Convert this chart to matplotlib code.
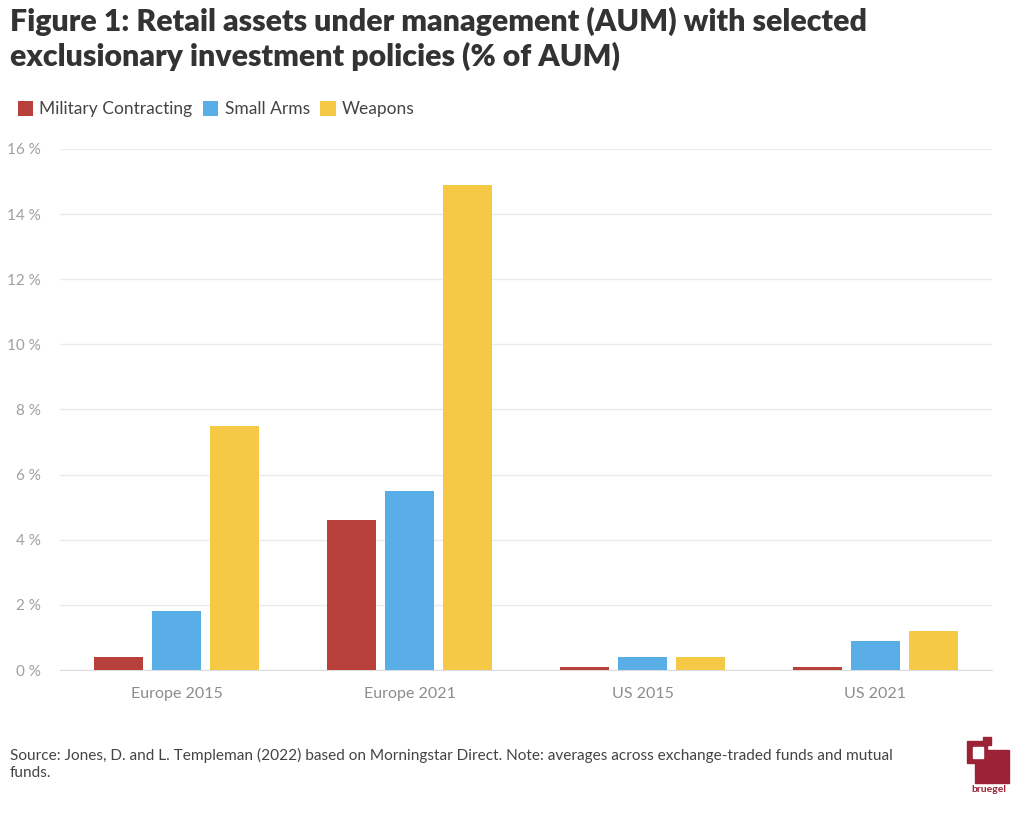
import numpy as np
import matplotlib.pyplot as plt
from matplotlib.patches import Rectangle

plt.rcParams['font.family'] = ['Lato', 'DejaVu Sans']

# data
categories = ['Europe 2015', 'Europe 2021', 'US 2015', 'US 2021']
series = ['Military Contracting', 'Small Arms', 'Weapons']
military = [0.4, 4.6, 0.1, 0.1]
small_arms = [1.8, 5.5, 0.4, 0.9]
weapons = [7.5, 14.9, 0.4, 1.2]
yticks = [0, 2, 4, 6, 8, 10, 12, 14, 16]

colors = ['#b8403b', '#5aaee8', '#f5c945']

fig = plt.figure(figsize=(10.24, 8.13), dpi=100)
ax = fig.add_axes([60/1024, 143/813, 932/1024, 521/813])

x = np.arange(len(categories))
w = 0.21
step = 0.25
for i, (vals, c) in enumerate(zip([military, small_arms, weapons], colors)):
    ax.bar(x + (i - 1) * step, vals, width=w, color=c, label=series[i], zorder=3)

ax.set_xlim(-0.5, 3.5)
ax.set_ylim(0, 16)
ax.set_yticks(yticks)
ax.set_yticklabels([f'{t} %' for t in yticks])
ax.set_xticks(x)
ax.set_xticklabels(categories)
ax.tick_params(axis='y', length=0, pad=14, labelsize=11, labelcolor='#a0a0a0')
ax.tick_params(axis='x', length=0, pad=12, labelsize=11.5, labelcolor='#8c8c8c')
ax.grid(axis='y', color='#ebebeb', lw=1, zorder=0)
for s in ['top', 'right', 'left']:
    ax.spines[s].set_visible(False)
ax.spines['bottom'].set_color('#dcdcdc')

# title
fig.text(10/1024, 1 - 7/813, 'Figure 1: Retail assets under management (AUM) with selected\nexclusionary investment policies (% of AUM)',
         fontsize=21.8, fontweight='heavy', color='#333333', va='top', ha='left', linespacing=1.25)

# legend
leg = fig.legend(loc='upper left', bbox_to_anchor=(2/1024, 1 - 85/813), ncol=3, frameon=False,
                 fontsize=12.5, handlelength=0.9, handleheight=1.0, handletextpad=0.35,
                 columnspacing=0.6, labelcolor='#444444')

# source note
fig.text(10/1024, 1 - 748/813,
         'Source: Jones, D. and L. Templeman (2022) based on Morningstar Direct. Note: averages across exchange-traded funds and mutual\nfunds.',
         fontsize=11.1, color='#444444', va='top', ha='left', linespacing=1.3)

# bruegel logo
logo = '#9b2335'
fig.patches.append(Rectangle((975/1024, 1 - 783/813), 34/1024, 33/813, transform=fig.transFigure, color=logo))
fig.patches.append(Rectangle((967/1024, 1 - 763/813), 20/1024, 22/813, transform=fig.transFigure, color=logo))
fig.patches.append(Rectangle((973/1024, 1 - 758/813), 10/1024, 11/813, transform=fig.transFigure, color='white'))
fig.patches.append(Rectangle((983/1024, 1 - 745/813), 8/1024, 8/813, transform=fig.transFigure, color=logo))
fig.text(989/1024, 1 - 789/813, 'bruegel', fontsize=7.5, fontweight='bold', color=logo, ha='center', va='center')

fig.savefig('out.png', dpi=100, facecolor='white')
